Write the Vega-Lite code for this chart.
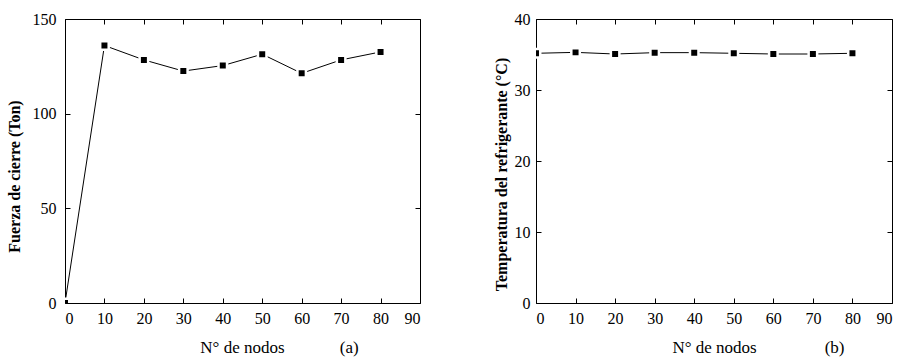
{
  "$schema": "https://vega.github.io/schema/vega-lite/v6.json",
  "background": "white",
  "padding": {"left": 6, "top": 11, "right": 5, "bottom": 3},
  "spacing": 72,
  "config": {
    "view": {"stroke": null},
    "font": "'Liberation Serif', 'Times New Roman', serif",
    "axis": {
      "labelFont": "'Liberation Serif', 'Times New Roman', serif",
      "titleFont": "'Liberation Serif', 'Times New Roman', serif",
      "labelFontSize": 16,
      "titleFontSize": 16,
      "labelColor": "black",
      "titleColor": "black",
      "domainColor": "black",
      "tickColor": "black",
      "domainWidth": 1,
      "tickWidth": 1,
      "tickSize": -5,
      "grid": false,
      "zindex": 1
    }
  },
  "hconcat": [
    {
      "width": 355,
      "height": 284,
      "data": {"values": [
        {"n": 0, "f": 0},
        {"n": 10, "f": 136},
        {"n": 20, "f": 128.4},
        {"n": 30, "f": 122.5},
        {"n": 40, "f": 125.4},
        {"n": 50, "f": 131.4},
        {"n": 60, "f": 121.3},
        {"n": 70, "f": 128.4},
        {"n": 80, "f": 132.6}
      ]},
      "layer": [
        {
          "mark": {"type": "line", "color": "black", "strokeWidth": 1, "clip": true},
          "encoding": {
            "x": {"field": "n", "type": "quantitative", "scale": {"domain": [0, 90], "nice": false},
              "axis": {"orient": "bottom", "values": [0,10,20,30,40,50,60,70,80,90], "labelPadding": 12, "title": "N° de nodos\u00a0\u00a0\u00a0\u00a0\u00a0\u00a0\u00a0\u00a0\u00a0\u00a0\u00a0\u00a0\u00a0(a)", "titleFontWeight": "normal", "titleFontSize": 17, "titlePadding": 13, "titleX": 214}},
            "y": {"field": "f", "type": "quantitative", "scale": {"domain": [0, 150], "nice": false},
              "axis": {"orient": "left", "values": [0, 50, 100, 150], "labelPadding": 14, "title": "Fuerza de cierre (Ton)", "titleFontWeight": "bold", "titlePadding": 10, "titleY": 157}}
          }
        },
        {
          "mark": {"type": "point", "shape": "square", "filled": true, "fill": "black", "stroke": "white", "strokeWidth": 2.5, "size": 72, "opacity": 1, "clip": true},
          "encoding": {
            "x": {"field": "n", "type": "quantitative", "scale": {"domain": [0, 90], "nice": false},
              "axis": {"orient": "top", "values": [0,10,20,30,40,50,60,70,80,90], "labels": false, "title": null}},
            "y": {"field": "f", "type": "quantitative", "scale": {"domain": [0, 150], "nice": false},
              "axis": {"orient": "right", "values": [0, 50, 100, 150], "labels": false, "title": null}}
          }
        }
      ],
      "resolve": {"axis": {"x": "independent", "y": "independent"}}
    },
    {
      "width": 356,
      "height": 284,
      "data": {"values": [
        {"n": 0, "t": 35.17},
        {"n": 10, "t": 35.3},
        {"n": 20, "t": 35.07},
        {"n": 30, "t": 35.26},
        {"n": 40, "t": 35.26},
        {"n": 50, "t": 35.17},
        {"n": 60, "t": 35.07},
        {"n": 70, "t": 35.07},
        {"n": 80, "t": 35.17}
      ]},
      "layer": [
        {
          "mark": {"type": "line", "color": "black", "strokeWidth": 1, "clip": true},
          "encoding": {
            "x": {"field": "n", "type": "quantitative", "scale": {"domain": [0, 90], "nice": false},
              "axis": {"orient": "bottom", "values": [0,10,20,30,40,50,60,70,80,90], "labelPadding": 12, "title": "N° de nodos\u00a0\u00a0\u00a0\u00a0\u00a0\u00a0\u00a0\u00a0\u00a0\u00a0\u00a0\u00a0\u00a0\u00a0\u00a0\u00a0(b)", "titleFontWeight": "normal", "titleFontSize": 17, "titlePadding": 13, "titleX": 222}},
            "y": {"field": "t", "type": "quantitative", "scale": {"domain": [0, 40], "nice": false},
              "axis": {"orient": "left", "values": [0, 10, 20, 30, 40], "labelPadding": 11, "title": "Temperatura del refrigerante (°C)", "titleFontWeight": "bold", "titlePadding": 5, "titleY": 155}}
          }
        },
        {
          "mark": {"type": "point", "shape": "square", "filled": true, "fill": "black", "stroke": "white", "strokeWidth": 2.5, "size": 72, "opacity": 1, "clip": true},
          "encoding": {
            "x": {"field": "n", "type": "quantitative", "scale": {"domain": [0, 90], "nice": false},
              "axis": {"orient": "top", "values": [0,10,20,30,40,50,60,70,80,90], "labels": false, "title": null}},
            "y": {"field": "t", "type": "quantitative", "scale": {"domain": [0, 40], "nice": false},
              "axis": {"orient": "right", "values": [0, 10, 20, 30, 40], "labels": false, "title": null}}
          }
        }
      ],
      "resolve": {"axis": {"x": "independent", "y": "independent"}}
    }
  ]
}
